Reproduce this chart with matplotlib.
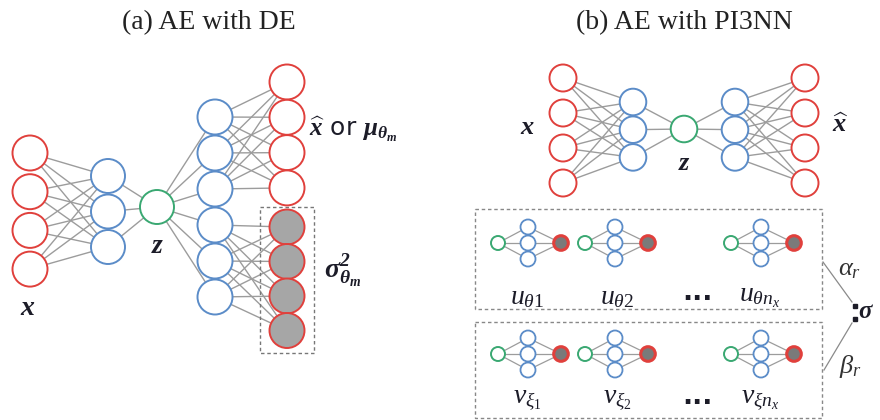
import matplotlib
matplotlib.use("Agg")
import matplotlib.pyplot as plt
from matplotlib.patches import Circle, Rectangle

plt.rcParams['mathtext.fontset'] = 'custom'
plt.rcParams['mathtext.rm'] = 'Liberation Serif'
plt.rcParams['mathtext.it'] = 'Liberation Serif:italic'
plt.rcParams['mathtext.bf'] = 'Liberation Serif:italic:bold'
plt.rcParams['mathtext.sf'] = 'DejaVu Sans'

RED = '#e0403c'
BLUE = '#5b8cc8'
GREEN = '#3aa872'
EDGE = '#9c9c9c'
TXT = '#1c1c28'

# layer sizes of the two networks
de_layers = [4, 3, 1, 6, 4, 4]          # x, hidden, z, hidden, mu, sigma^2
pi3_layers = [4, 3, 1, 3, 4]            # x, hidden, z, hidden, x_hat
u_labels = [r'$u_{\theta 1}$', r'$u_{\theta 2}$', r'$u_{\theta n_x}$']
v_labels = [r'$v_{\xi_1}$', r'$v_{\xi_2}$', r'$v_{\xi n_x}$']
titles = ['(a) AE with DE', '(b) AE with PI3NN']

fig = plt.figure(figsize=(8.8, 4.2), dpi=100)
ax = fig.add_axes([0, 0, 1, 1])
ax.set_xlim(0, 880)
ax.set_ylim(420, 0)
ax.axis('off')


def layer(cx, ys, r, color, fill='white', lw=1.4):
    for y in ys:
        ax.add_patch(Circle((cx, y), r, facecolor=fill, edgecolor=color, lw=lw, zorder=3))
    return [(cx, y) for y in ys]


def connect(a, b, lw=1.0):
    for p in a:
        for q in b:
            ax.plot([p[0], q[0]], [p[1], q[1]], color=EDGE, lw=lw, zorder=1)


def column(y0, step, n):
    return [y0 + i * step for i in range(n)]


# ---------- (a) AE with DE ----------
ax.text(209, 23, titles[0], ha='center', va='center', fontsize=20,
        family='Liberation Serif', color='#222222')
r = 17.5
L0 = layer(30, column(153, 38.7, de_layers[0]), r, RED)
L1 = layer(108, column(176, 35.5, de_layers[1]), 17, BLUE)
L2 = layer(157, [207], 17, GREEN)
L3 = layer(215, column(117, 36, de_layers[3]), r, BLUE)
L4 = layer(287, column(82, 35.3, de_layers[4]), r, RED)
L5 = layer(287, column(227, 34.5, de_layers[5]), r, RED, fill='#a6a6a6')
connect(L0, L1)
connect(L1, L2)
connect(L2, L3)
connect(L3[:3], L4)
connect(L3[3:], L5)
ax.add_patch(Rectangle((260, 207), 54, 146, fill=False, edgecolor='#777777',
                       lw=1.0, ls=(0, (2.5, 2)), zorder=2))
ax.text(28, 307, r'$\mathbf{x}$', ha='center', va='center', fontsize=20, color=TXT)
ax.text(158, 245, r'$\mathbf{z}$', ha='center', va='center', fontsize=20, color=TXT)
ax.text(309, 129, r'$\widehat{\mathbf{x}}$ $\mathsf{or}$ $\mathbf{\mu}_{\mathbf{\theta}_{\mathbf{m}}}$',
        ha='left', va='center', fontsize=18, color=TXT)
ax.text(324, 271, r'$\mathbf{\sigma}^{\mathbf{2}}_{\mathbf{\theta}_{\mathbf{m}}}$',
        ha='left', va='center', fontsize=20, color=TXT)

# ---------- (b) AE with PI3NN ----------
ax.text(684, 23, titles[1], ha='center', va='center', fontsize=20,
        family='Liberation Serif', color='#222222')
rr = 13.5
P0 = layer(563, column(78, 35, pi3_layers[0]), rr, RED)
P1 = layer(633, column(102, 27.7, pi3_layers[1]), 13.3, BLUE)
P2 = layer(684, [129], 13.3, GREEN)
P3 = layer(735, column(102, 27.7, pi3_layers[3]), 13.3, BLUE)
P4 = layer(805, column(78, 35, pi3_layers[4]), rr, RED)
connect(P0, P1)
connect(P1, P2)
connect(P2, P3)
connect(P3, P4)
ax.text(527, 127, r'$\mathbf{x}$', ha='center', va='center', fontsize=19, color=TXT)
ax.text(684, 163, r'$\mathbf{z}$', ha='center', va='center', fontsize=19, color=TXT)
ax.text(840, 125, r'$\widehat{\mathbf{x}}$', ha='center', va='center', fontsize=19, color=TXT)


def small_net(gx, gy):
    g = layer(gx, [gy], 7, GREEN, lw=1.4)
    b = layer(gx + 30, [gy - 16, gy, gy + 16], 7.5, BLUE, lw=1.3)
    o = layer(gx + 63, [gy], 7.3, RED, fill='#7a7a7a', lw=2.2)
    connect(g, b, lw=0.9)
    connect(b, o, lw=0.9)


net_x = [498, 585, 731]
label_x = [527, 617, 760]
for row_y, lab_y, labels in [(243, 296, u_labels), (354, 400, v_labels)]:
    for gx, lx, lab in zip(net_x, label_x, labels):
        small_net(gx, row_y)
        ax.text(lx, lab_y, lab, ha='center', va='center', fontsize=20, color=TXT)
    ax.text(697, lab_y - 3, '...', ha='center', va='center', fontsize=19,
            fontweight='bold', family='DejaVu Sans', color=TXT)

for y0, h in [(209, 100), (322, 96)]:
    ax.add_patch(Rectangle((475, y0), 347, h, fill=False, edgecolor='#888888',
                           lw=1.0, ls=(0, (2.5, 2)), zorder=2))

ax.plot([823, 852], [262, 302], color='#8a8a8a', lw=0.9)
ax.plot([852, 824], [323, 370], color='#8a8a8a', lw=0.9)
ax.plot([855, 855], [306, 319], ls='none', marker='s', ms=2.8, color=TXT)
ax.text(866, 311, r'$\mathbf{\sigma}$', ha='center', va='center', fontsize=18, color=TXT)
ax.text(850, 268, r'$\alpha_r$', ha='center', va='center', fontsize=19, color='#333333')
ax.text(850, 366, r'$\beta_r$', ha='center', va='center', fontsize=19, color='#333333')

fig.savefig('out.png', dpi=100, facecolor='white')
